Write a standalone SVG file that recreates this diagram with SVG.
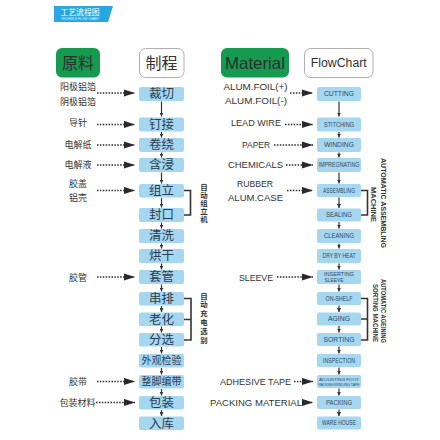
<svg xmlns="http://www.w3.org/2000/svg" width="440" height="440" viewBox="0 0 440 440">
<style>
.zh{font-family:"Noto Sans CJK SC","Noto Sans",sans-serif;}
.en{font-family:"Liberation Sans",Arial,sans-serif;}
.lbl{font-size:9px;fill:#333;text-anchor:middle;}
.elbl{font-size:9.3px;fill:#333;text-anchor:middle;}
.box{fill:#a6d7f1;}
.btxt{font-size:12.5px;fill:#2b3d4f;text-anchor:middle;}
.sm{font-size:10px;}
.rtxt{font-size:6.5px;fill:#2d4a63;text-anchor:middle;}
.r2{font-size:5.3px;}
.r3{font-size:4.4px;}
.dot{stroke:#2a2a2a;stroke-width:1.6;stroke-dasharray:1.5 1.4;fill:none;marker-end:url(#dh);}
.va{stroke:#333;stroke-width:1.2;fill:none;marker-end:url(#ah);}
.brk{stroke:#333;stroke-width:1.6;fill:none;}
.vt{font-size:7.4px;font-weight:bold;fill:#333;writing-mode:vertical-rl;text-orientation:upright;}
.rt{font-size:6.3px;font-weight:bold;fill:#333;text-anchor:middle;}
</style>
<defs>
<marker id="dh" markerUnits="userSpaceOnUse" markerWidth="11" markerHeight="8" refX="11" refY="4" orient="auto"><path d="M0,0.4 L11,4 L0,7.6 z" fill="#2a2a2a"/></marker>
<marker id="ah" markerUnits="userSpaceOnUse" markerWidth="4" markerHeight="4" refX="4" refY="2" orient="auto"><path d="M0,0 L4,2 L0,4 z" fill="#333"/></marker>
</defs>
<rect width="440" height="440" fill="#fff"/>

<g id="banner">
<polygon points="54,6 113,6 108,22 54,22" fill="#2aa7e0"/>
<text x="80" y="14.5" class="zh" font-size="7.8" fill="#fff" text-anchor="middle">工艺流程图</text>
<text x="80" y="19.8" class="en" font-size="3" fill="#e6f5fc" text-anchor="middle" textLength="38" lengthAdjust="spacingAndGlyphs">TECHNICS FLOW CHART</text>
</g>

<g id="hdr-yuanliao"><rect x="56" y="48" width="44" height="29.5" rx="6" fill="#159a50"/><text x="78" y="68.5" class="zh" font-size="16" fill="#2d2d2d" text-anchor="middle">原料</text></g>
<g id="hdr-zhicheng"><rect x="139.5" y="48.5" width="44.5" height="29" rx="6" fill="#fff" stroke="#9a9a9a" stroke-width="0.8"/><text x="161.5" y="68.5" class="zh" font-size="16" fill="#333" text-anchor="middle">制程</text></g>
<g id="hdr-material"><rect x="221" y="48" width="68" height="29.5" rx="6" fill="#159a50"/><text x="255" y="69" class="en" font-size="16.5" fill="#2d2d2d" text-anchor="middle" textLength="60" lengthAdjust="spacingAndGlyphs">Material</text></g>
<g id="hdr-flowchart"><rect x="304.5" y="48.5" width="68.5" height="29" rx="6" fill="#fff" stroke="#9a9a9a" stroke-width="0.8"/><text x="338.8" y="67" class="en" font-size="12" fill="#333" text-anchor="middle" textLength="56" lengthAdjust="spacingAndGlyphs">FlowChart</text></g>

<g id="l-caiqie"><rect class="box" x="139" y="87" width="45" height="14" rx="2"/><text class="zh btxt" x="161.5" y="98.3">裁切</text></g>
<g id="l-dingjie"><rect class="box" x="139" y="117.5" width="45" height="14" rx="2"/><text class="zh btxt" x="161.5" y="128.8">钉接</text></g>
<g id="l-juanrao"><rect class="box" x="139" y="138" width="45" height="14" rx="2"/><text class="zh btxt" x="161.5" y="149.3">卷绕</text></g>
<g id="l-hanjin"><rect class="box" x="139" y="158" width="45" height="14" rx="2"/><text class="zh btxt" x="161.5" y="169.3">含浸</text></g>
<g id="l-zuli"><rect class="box" x="139" y="184" width="45" height="13.5" rx="2"/><text class="zh btxt" x="161.5" y="195">组立</text></g>
<g id="l-fengkou"><rect class="box" x="139" y="208" width="45" height="14" rx="2"/><text class="zh btxt" x="161.5" y="219.3">封口</text></g>
<g id="l-qingxi"><rect class="box" x="139" y="229" width="45" height="14" rx="2"/><text class="zh btxt" x="161.5" y="240.3">清洗</text></g>
<g id="l-honggan"><rect class="box" x="139" y="249" width="45" height="14" rx="2"/><text class="zh btxt" x="161.5" y="260.3">烘干</text></g>
<g id="l-taoguan"><rect class="box" x="139" y="270" width="45" height="14" rx="2"/><text class="zh btxt" x="161.5" y="281.3">套管</text></g>
<g id="l-chuanpai"><rect class="box" x="139" y="292" width="45" height="13.5" rx="2"/><text class="zh btxt" x="161.5" y="303">串排</text></g>
<g id="l-laohua"><rect class="box" x="139" y="312.5" width="45" height="13.5" rx="2"/><text class="zh btxt" x="161.5" y="323.5">老化</text></g>
<g id="l-fenxuan"><rect class="box" x="139" y="333" width="45" height="13.5" rx="2"/><text class="zh btxt" x="161.5" y="344">分选</text></g>
<g id="l-waiguan"><rect class="box" x="139" y="354" width="45" height="13.5" rx="2"/><text class="zh btxt sm" x="161.5" y="364.3">外观检验</text></g>
<g id="l-zhengjiao"><rect class="box" x="139" y="375" width="45" height="13.5" rx="2"/><text class="zh btxt sm" x="161.5" y="385.3">整脚编带</text></g>
<g id="l-baozhuang"><rect class="box" x="139" y="396" width="45" height="13.5" rx="2"/><text class="zh btxt" x="161.5" y="407">包装</text></g>
<g id="l-ruku"><rect class="box" x="139" y="416.5" width="45" height="13.5" rx="2"/><text class="zh btxt" x="161.5" y="427.5">入库</text></g>

<g id="l-in-foil"><text class="zh lbl" x="78" y="89.8">阳极铝箔</text><text class="zh lbl" x="78" y="104.5">阴极铝箔</text></g>
<g id="l-in-lead"><text class="zh lbl" x="78" y="126.3">导针</text></g>
<g id="l-in-paper"><text class="zh lbl" x="78" y="147.8">电解纸</text></g>
<g id="l-in-liquid"><text class="zh lbl" x="78" y="167.5">电解液</text></g>
<g id="l-in-cap"><text class="zh lbl" x="78" y="186.5">胶盖</text><text class="zh lbl" x="78" y="200.5">铝壳</text></g>
<g id="l-in-tube"><text class="zh lbl" x="78" y="280.5">胶管</text></g>
<g id="l-in-tape"><text class="zh lbl" x="78" y="385.3">胶带</text></g>
<g id="l-in-pack"><text class="zh lbl" x="77.5" y="405.5">包装材料</text></g>

<g id="r-cutting"><rect class="box" x="317" y="87" width="44" height="14" rx="2"/><text class="en rtxt" x="339" y="96.3" textLength="30" lengthAdjust="spacingAndGlyphs">CUTTING</text></g>
<g id="r-stitching"><rect class="box" x="317" y="117.5" width="44" height="14" rx="2"/><text class="en rtxt" x="339" y="126.8" textLength="30" lengthAdjust="spacingAndGlyphs">STITCHING</text></g>
<g id="r-winding"><rect class="box" x="317" y="138" width="44" height="14" rx="2"/><text class="en rtxt" x="339" y="147.3" textLength="30" lengthAdjust="spacingAndGlyphs">WINDING</text></g>
<g id="r-impregnating"><rect class="box" x="317" y="158" width="44" height="14" rx="2"/><text class="en rtxt" x="339" y="167.3" textLength="41" lengthAdjust="spacingAndGlyphs">IMPREGNATING</text></g>
<g id="r-assembling"><rect class="box" x="317" y="184" width="44" height="13" rx="2"/><text class="en rtxt" x="339" y="192.8" textLength="32" lengthAdjust="spacingAndGlyphs">ASSEMBLING</text></g>
<g id="r-sealing"><rect class="box" x="317" y="208.5" width="44" height="13" rx="2"/><text class="en rtxt" x="339" y="217.3" textLength="26" lengthAdjust="spacingAndGlyphs">SEALING</text></g>
<g id="r-cleaning"><rect class="box" x="317" y="229" width="44" height="14" rx="2"/><text class="en rtxt" x="339" y="238.3" textLength="30" lengthAdjust="spacingAndGlyphs">CLEANING</text></g>
<g id="r-dry"><rect class="box" x="317" y="249" width="44" height="14" rx="2"/><text class="en rtxt" x="339" y="258.3" textLength="33" lengthAdjust="spacingAndGlyphs">DRY BY HEAT</text></g>
<g id="r-inserting"><rect class="box" x="317" y="270" width="44" height="14" rx="2"/><text class="en rtxt r2" x="324" y="276.2" style="text-anchor:start" textLength="30" lengthAdjust="spacingAndGlyphs">INSERTING</text><text class="en rtxt r2" x="324.5" y="282" style="text-anchor:start" textLength="19" lengthAdjust="spacingAndGlyphs">SLEEVE</text></g>
<g id="r-onshelf"><rect class="box" x="317" y="292" width="44" height="13" rx="2"/><text class="en rtxt" x="339" y="300.8" textLength="27" lengthAdjust="spacingAndGlyphs">ON-SHELF</text></g>
<g id="r-aging"><rect class="box" x="317" y="312.5" width="44" height="13" rx="2"/><text class="en rtxt" x="339" y="321.3" textLength="22" lengthAdjust="spacingAndGlyphs">AGING</text></g>
<g id="r-sorting"><rect class="box" x="317" y="333" width="44" height="13" rx="2"/><text class="en rtxt" x="339" y="341.8" textLength="31" lengthAdjust="spacingAndGlyphs">SORTING</text></g>
<g id="r-inspection"><rect class="box" x="317" y="354" width="44" height="13" rx="2"/><text class="en rtxt" x="339" y="362.8" textLength="32" lengthAdjust="spacingAndGlyphs">INSPECTION</text></g>
<g id="r-adjusting"><rect class="box" x="317" y="375" width="44" height="13" rx="2"/><text class="en rtxt r3" x="339" y="380.6" textLength="40" lengthAdjust="spacingAndGlyphs">ADJUSTING FOOT</text><text class="en rtxt r3" x="339" y="386" textLength="41" lengthAdjust="spacingAndGlyphs">PACKING/WINDING TAPE</text></g>
<g id="r-packing"><rect class="box" x="317" y="396" width="44" height="13" rx="2"/><text class="en rtxt" x="339" y="404.8" textLength="26" lengthAdjust="spacingAndGlyphs">PACKING</text></g>
<g id="r-warehouse"><rect class="box" x="317" y="416.5" width="44" height="13" rx="2"/><text class="en rtxt" x="339" y="425.3" textLength="34" lengthAdjust="spacingAndGlyphs">WARE HOUSE</text></g>

<g id="r-in-foil"><text class="en elbl" x="255.5" y="90.3" textLength="64" lengthAdjust="spacingAndGlyphs">ALUM.FOIL(+)</text><text class="en elbl" x="256" y="104.3" textLength="62" lengthAdjust="spacingAndGlyphs">ALUM.FOIL(-)</text></g>
<g id="r-in-lead"><text class="en elbl" x="256" y="126.3" textLength="50" lengthAdjust="spacingAndGlyphs">LEAD WIRE</text></g>
<g id="r-in-paper"><text class="en elbl" x="256" y="147.5" textLength="28" lengthAdjust="spacingAndGlyphs">PAPER</text></g>
<g id="r-in-chem"><text class="en elbl" x="255.5" y="167.5" textLength="55" lengthAdjust="spacingAndGlyphs">CHEMICALS</text></g>
<g id="r-in-rubber"><text class="en elbl" x="255" y="186.5" textLength="36" lengthAdjust="spacingAndGlyphs">RUBBER</text><text class="en elbl" x="255.5" y="200.5" textLength="55" lengthAdjust="spacingAndGlyphs">ALUM.CASE</text></g>
<g id="r-in-sleeve"><text class="en elbl" x="256" y="280.5" textLength="34" lengthAdjust="spacingAndGlyphs">SLEEVE</text></g>
<g id="r-in-tape"><text class="en elbl" x="255.5" y="384.5" textLength="71" lengthAdjust="spacingAndGlyphs">ADHESIVE TAPE</text></g>
<g id="r-in-pack"><text class="en elbl" x="256" y="405.5" textLength="92" lengthAdjust="spacingAndGlyphs">PACKING MATERIAL</text></g>

<g id="l-note-assembly"><text class="zh vt" x="204" y="183" letter-spacing="0.6">自动组立机</text></g>
<g id="l-note-sorting"><text class="zh vt" x="204" y="292" letter-spacing="1.4">自动充电选别</text></g>
<g id="r-note-assembly"><text class="en rt" transform="translate(381,203) rotate(90)" textLength="90" lengthAdjust="spacingAndGlyphs">AUTOMATIC ASSEMBLING</text><text class="en rt" transform="translate(371,204.5) rotate(90)" textLength="35" lengthAdjust="spacingAndGlyphs">MACHINE</text></g>
<g id="r-note-sorting"><text class="en rt" transform="translate(381,311) rotate(90)" textLength="64" lengthAdjust="spacingAndGlyphs">AUTOMATIC AGEINING</text><text class="en rt" transform="translate(373,313) rotate(90)" textLength="58" lengthAdjust="spacingAndGlyphs">SORTING MACHINE</text></g>

<g id="connectors">
<line class="dot" x1="97" y1="93" x2="135" y2="93"/>
<line class="dot" x1="97" y1="124.5" x2="135" y2="124.5"/>
<line class="dot" x1="97" y1="145" x2="135" y2="145"/>
<line class="dot" x1="97" y1="165" x2="135" y2="165"/>
<line class="dot" x1="97" y1="190.5" x2="135" y2="190.5"/>
<line class="dot" x1="97" y1="277" x2="135" y2="277"/>
<line class="dot" x1="97" y1="381.5" x2="135" y2="381.5"/>
<line class="dot" x1="96" y1="402.5" x2="135" y2="402.5"/>
<line class="dot" x1="290" y1="93" x2="313" y2="93"/>
<line class="dot" x1="285" y1="124.5" x2="313" y2="124.5"/>
<line class="dot" x1="274" y1="145" x2="313" y2="145"/>
<line class="dot" x1="286" y1="165" x2="313" y2="165"/>
<line class="dot" x1="287" y1="190.5" x2="313" y2="190.5"/>
<line class="dot" x1="277" y1="277" x2="313" y2="277"/>
<line class="dot" x1="294" y1="381.5" x2="313" y2="381.5"/>
<line class="dot" x1="302" y1="402.5" x2="313" y2="402.5"/>
<line class="va" x1="161.5" y1="101.5" x2="161.5" y2="116.5"/>
<line class="va" x1="161.5" y1="132" x2="161.5" y2="137.5"/>
<line class="va" x1="161.5" y1="152.5" x2="161.5" y2="157.5"/>
<line class="va" x1="161.5" y1="172.5" x2="161.5" y2="183.5"/>
<line class="va" x1="161.5" y1="198" x2="161.5" y2="207.5"/>
<line class="va" x1="161.5" y1="222.5" x2="161.5" y2="228.5"/>
<line class="va" x1="161.5" y1="243.5" x2="161.5" y2="248.5"/>
<line class="va" x1="161.5" y1="263.5" x2="161.5" y2="269.5"/>
<line class="va" x1="161.5" y1="284.5" x2="161.5" y2="291.5"/>
<line class="va" x1="161.5" y1="306" x2="161.5" y2="312"/>
<line class="va" x1="161.5" y1="326.5" x2="161.5" y2="332.5"/>
<line class="va" x1="161.5" y1="347" x2="161.5" y2="353.5"/>
<line class="va" x1="161.5" y1="368" x2="161.5" y2="374.5"/>
<line class="va" x1="161.5" y1="389" x2="161.5" y2="395.5"/>
<line class="va" x1="161.5" y1="410" x2="161.5" y2="416"/>
<line class="va" x1="339" y1="101.5" x2="339" y2="116.5"/>
<line class="va" x1="339" y1="132" x2="339" y2="137.5"/>
<line class="va" x1="339" y1="152.5" x2="339" y2="157.5"/>
<line class="va" x1="339" y1="172.5" x2="339" y2="183.5"/>
<line class="va" x1="339" y1="197.5" x2="339" y2="208"/>
<line class="va" x1="339" y1="222" x2="339" y2="228.5"/>
<line class="va" x1="339" y1="243.5" x2="339" y2="248.5"/>
<line class="va" x1="339" y1="263.5" x2="339" y2="269.5"/>
<line class="va" x1="339" y1="284.5" x2="339" y2="291.5"/>
<line class="va" x1="339" y1="305.5" x2="339" y2="312"/>
<line class="va" x1="339" y1="326" x2="339" y2="332.5"/>
<line class="va" x1="339" y1="346.5" x2="339" y2="353.5"/>
<line class="va" x1="339" y1="367.5" x2="339" y2="374.5"/>
<line class="va" x1="339" y1="388.5" x2="339" y2="395.5"/>
<line class="va" x1="339" y1="409.5" x2="339" y2="416"/>
<path class="brk" d="M184,190.5 H190.5 V215 H184"/>
<path class="brk" d="M184,298.5 H191 V340 H184 M184,319.5 H191"/>
<path class="brk" d="M361,190.5 H367.5 V215 H361"/>
<path class="brk" d="M361,298.5 H367.5 V340 H361 M361,319 H367.5"/>
</g>
</svg>
